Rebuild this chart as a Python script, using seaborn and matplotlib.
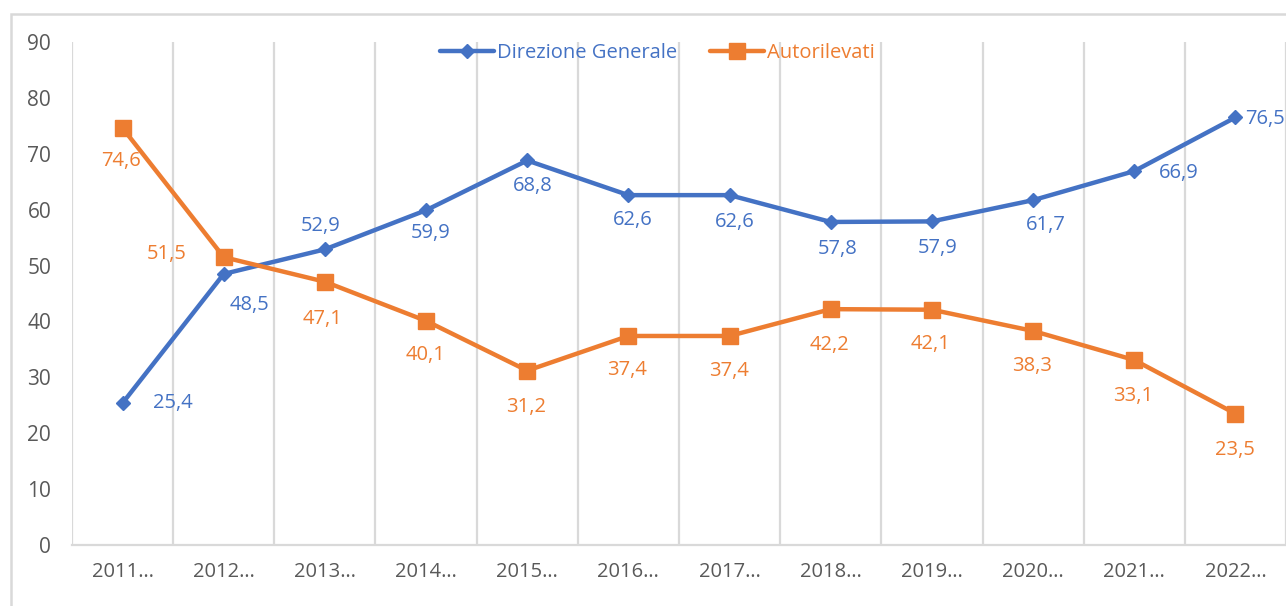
import matplotlib
matplotlib.use("Agg")
import matplotlib.pyplot as plt
import seaborn as sns
import pandas as pd
from matplotlib.lines import Line2D
from matplotlib.patches import Rectangle

# ---- data ----
anni = ["2011…", "2012…", "2013…", "2014…", "2015…", "2016…",
        "2017…", "2018…", "2019…", "2020…", "2021…", "2022…"]
direzione_generale = [25.4, 48.5, 52.9, 59.9, 68.8, 62.6, 62.6, 57.8, 57.9, 61.7, 66.9, 76.5]
autorilevati = [74.6, 51.5, 47.1, 40.1, 31.2, 37.4, 37.4, 42.2, 42.1, 38.3, 33.1, 23.5]
serie_nomi = ["Direzione Generale", "Autorilevati"]
y_ticks = [0, 10, 20, 30, 40, 50, 60, 70, 80, 90]

# ---- styles: label offsets (points) ----
off_blue = [(36, 0), (18.7, -22.3), (-2.9, 16.6), (3.6, -16.6), (3.6, -18.7), (2.9, -18),
            (3.6, -19.4), (5, -19.4), (4.3, -19.4), (9.4, -18), (32.4, -1.4), (7.2, -1.4)]
ha_blue = ["center"] * 11 + ["left"]
off_orange = [(-1.4, -23.8), (-41, 2.2), (-1.4, -26.6), (-0.7, -24.5), (-0.7, -26), (-0.7, -24.5),
              (-0.7, -25.2), (-0.7, -26), (-0.7, -24.5), (-0.7, -25.2), (-0.7, -26), (-0.7, -26)]

BLUE = "#4472C4"
ORANGE = "#ED7D31"
GRID = "#D9D9D9"
TXT = "#595959"

sns.set_style("white")
plt.rcParams["font.family"] = ["Open Sans", "DejaVu Sans"]
FS = 14.5

df = pd.DataFrame({
    "anno": anni * 2,
    "valore": direzione_generale + autorilevati,
    "serie": [serie_nomi[0]] * len(anni) + [serie_nomi[1]] * len(anni),
})

fig = plt.figure(figsize=(12.86, 6.06), dpi=100)
ax = fig.add_axes([72 / 1286, 1 - 545 / 606, 1 - 72 / 1286, (545 - 42) / 606])

sns.lineplot(data=df[df.serie == serie_nomi[0]], x="anno", y="valore", ax=ax,
             color=BLUE, marker="D", markersize=7.5, markeredgewidth=1,
             markeredgecolor=BLUE, linewidth=3.2, sort=False, legend=False, zorder=3)
sns.lineplot(data=df[df.serie == serie_nomi[1]], x="anno", y="valore", ax=ax,
             color=ORANGE, marker="s", markersize=11.5, markeredgewidth=1,
             markeredgecolor=ORANGE, linewidth=3.2, sort=False, legend=False, zorder=4)

ax.set_xlim(-0.5, len(anni) - 0.5)
ax.set_ylim(0, 90)
ax.set_yticks(y_ticks)
ax.set_yticklabels([str(t) for t in y_ticks])
ax.set_xticks(range(len(anni)))
ax.set_xticklabels(anni)
ax.set_xlabel("")
ax.set_ylabel("")

# vertical gridlines at category boundaries
ax.set_xticks([i - 0.5 for i in range(len(anni) + 1)], minor=True)
ax.grid(False)
ax.grid(True, which="minor", axis="x", color=GRID, linewidth=1.6)
ax.tick_params(axis="both", which="both", length=0)
ax.tick_params(axis="y", labelsize=FS + 0.5, labelcolor=TXT, pad=15)
ax.tick_params(axis="x", labelsize=FS, labelcolor=TXT, pad=12)
for s in ["top", "right", "left"]:
    ax.spines[s].set_visible(False)
ax.spines["bottom"].set_color(GRID)
ax.spines["bottom"].set_linewidth(1.6)

def fmt(v):
    return f"{v:.1f}".replace(".", ",")

for i, (v, o, h) in enumerate(zip(direzione_generale, off_blue, ha_blue)):
    ax.annotate(fmt(v), xy=(i, v), xytext=o, textcoords="offset points",
                ha=h, va="center", color=BLUE, fontsize=FS, zorder=5)
for i, (v, o) in enumerate(zip(autorilevati, off_orange)):
    ax.annotate(fmt(v), xy=(i, v), xytext=o, textcoords="offset points",
                ha="center", va="center", color=ORANGE, fontsize=FS, zorder=5)

handles = [
    Line2D([], [], color=BLUE, lw=3.2, marker="D", markersize=7.5, markeredgecolor=BLUE),
    Line2D([], [], color=ORANGE, lw=3.2, marker="s", markersize=11.5, markeredgecolor=ORANGE),
]
leg = fig.legend(handles, serie_nomi, loc="center", bbox_to_anchor=(657.5 / 1286, 1 - 53 / 606),
                 ncol=2, frameon=False, fontsize=FS, handlelength=2.7, handletextpad=0.15,
                 columnspacing=1.6)
for t, c in zip(leg.get_texts(), [BLUE, ORANGE]):
    t.set_color(c)

# outer chart border
fig.patches.append(Rectangle((10.5 / 1286, -0.1), 1.2, (606 - 13.5) / 606 + 0.1,
                             transform=fig.transFigure, fill=False,
                             edgecolor=GRID, linewidth=1.8, zorder=0))

fig.savefig("out.png", dpi=100)
